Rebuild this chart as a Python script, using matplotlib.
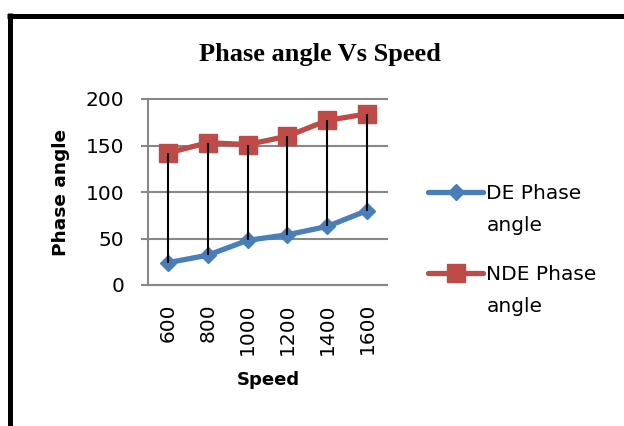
import matplotlib
matplotlib.use("Agg")
import matplotlib.pyplot as plt
from matplotlib.lines import Line2D
from matplotlib.offsetbox import DrawingArea
import numpy as np


speeds = ["600", "800", "1000", "1200", "1400", "1600"]
de_phase = [24, 32, 48, 54, 63, 80]
nde_phase = [142, 153, 151, 160, 177, 184]

blue = "#4a7ebb"
red = "#be4b48"
grid_grey = "#878787"
legend_fs = 14.5

fig = plt.figure(figsize=(6.24, 4.26), dpi=100)
ax = fig.add_axes([148 / 624, 1 - 285 / 426, 239 / 624, 186 / 426])

x = np.arange(len(speeds))
ax.plot(x, de_phase, color=blue, lw=3.8, marker="D", ms=8, mew=1,
        solid_capstyle="round", label="DE Phase\nangle", zorder=2)
ax.plot(x, nde_phase, color=red, lw=3.8, marker="s", ms=12.5, mew=1,
        solid_capstyle="round", label="NDE Phase\nangle", zorder=2)
# high-low lines joining the two series
ax.vlines(x, de_phase, nde_phase, color="black", lw=1.5, zorder=3)

ax.set_xlim(-0.5, len(speeds) - 0.5)
ax.set_ylim(0, 200)
ax.set_yticks([0, 50, 100, 150, 200])
ax.set_xticks(x)
ax.set_xticklabels(speeds, rotation=90)

ax.grid(axis="y", color=grid_grey, lw=1.5)
for gl in ax.get_ygridlines():
    gl.set_clip_on(False)
ax.set_axisbelow(True)
for side in ["top", "right"]:
    ax.spines[side].set_visible(False)
for side in ["left", "bottom"]:
    ax.spines[side].set_color(grid_grey)
    ax.spines[side].set_linewidth(1.5)

ax.tick_params(axis="y", length=5, width=1.5, color=grid_grey, pad=12,
               labelsize=14.5)
ax.tick_params(axis="x", length=0, pad=13, labelsize=14.5)

leg = ax.legend(loc="upper left", bbox_to_anchor=(428 / 624, 1 - 184 / 426),
                bbox_transform=fig.transFigure, frameon=False,
                fontsize=legend_fs, borderpad=0, borderaxespad=0,
                handlelength=2.75, handletextpad=0.15, labelspacing=1.5)
for t in leg.get_texts():
    t.set_linespacing(1.85)

fig.text(320 / 624, 1 - 61 / 426, "Phase angle Vs Speed", ha="center",
         va="baseline", fontsize=19, fontweight="bold",
         family="Liberation Serif")
fig.text(61 / 624, 1 - 193 / 426, "Phase angle", rotation=90, ha="center",
         va="center", fontsize=13.3, fontweight="bold")
fig.text(268 / 624, 1 - 385 / 426, "Speed", ha="center", va="baseline",
         fontsize=13, fontweight="bold")

# black frame along the top and left edges
fig.add_artist(Line2D([7 / 624, 1.0], [1 - 15.5 / 426] * 2,
                      transform=fig.transFigure, color="black", lw=3.6,
                      solid_capstyle="butt"))
fig.add_artist(Line2D([9.5 / 624] * 2, [0.0, 1 - 13 / 426],
                      transform=fig.transFigure, color="black", lw=3.6,
                      solid_capstyle="butt"))

# move each legend key up beside the first line of its two-line label
fig.canvas.draw()
px_per_pt = fig.dpi / 72
for t, da in zip(leg.get_texts(), leg.findobj(DrawingArea)):
    top = t.get_window_extent().y1
    target = top - 0.4 * legend_fs * px_per_pt
    for ln in da.get_children():
        if isinstance(ln, Line2D):
            yd = np.asarray(ln.get_ydata(), dtype=float)
            cur = ln.get_transform().transform((0, yd[0]))[1]
            ln.set_ydata(yd + (target - cur) / px_per_pt)

fig.savefig("out.png", dpi=100)
